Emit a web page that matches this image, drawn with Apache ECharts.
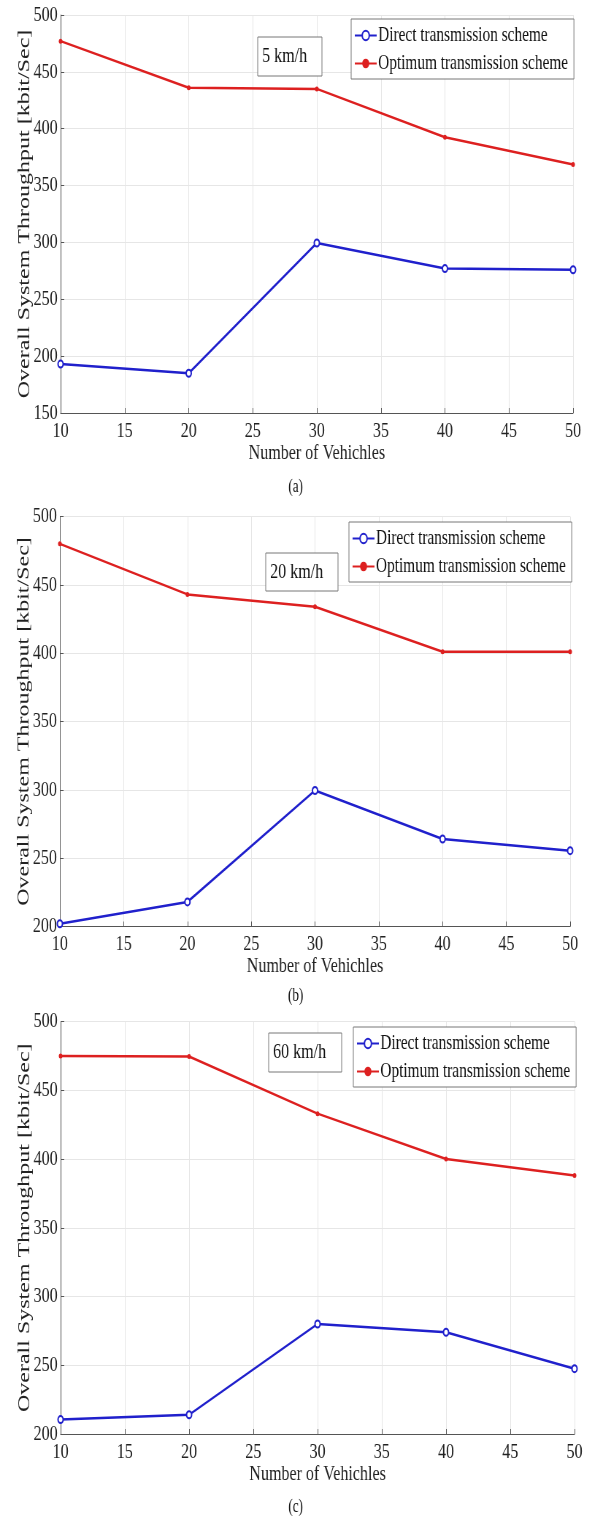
<!DOCTYPE html>
<html>
<head>
<meta charset="utf-8">
<script src="https://cdn.jsdelivr.net/npm/echarts@6/dist/echarts.min.js"></script>
<style>
html,body{margin:0;padding:0;background:#fff;overflow:hidden;}
#chart{width:807px;height:1517px;transform:scaleX(0.73);transform-origin:0 0;}
</style>
</head>
<body>
<div id="chart"></div>
<script>
// ---- data ----
var vehicles = [10, 20, 30, 40, 50];
var directA  = [193, 185, 299.5, 277, 276];
var optimumA = [477, 436, 435, 392.5, 368.5];
var directB  = [202, 218, 299.5, 264, 255.5];
var optimumB = [480, 443, 434, 401, 401];
var directC  = [210.5, 214, 280, 274, 247.5];
var optimumC = [475, 474.5, 433, 400, 388];
var speedLabels = ['5 km/h', '20 km/h', '60 km/h'];
var captions = ['(a)', '(b)', '(c)'];
var yMins = [150, 200, 200];
var seriesNames = ['Direct transmission scheme', 'Optimum transmission scheme'];
var xTitle = 'Number of Vehichles';
var yTitle = 'Overall System Throughput [kbit/Sec]';

var FONT = 'Liberation Serif';
var BLUE = '#2020cc';
var RED = '#dd2020';

var grids = [
  {left: 83, right: 22, top: 15, height: 398},
  {left: 82, right: 26, top: 516.5, height: 410},
  {left: 83, right: 20, top: 1021.5, height: 412.5}
];
var legendPos = [
  {left: 481, top: 19},
  {left: 478, top: 522},
  {left: 484, top: 1027}
];
var boxPos = [
  {x: 353, y: 37, w: 88, h: 39},
  {x: 364, y: 553, w: 99, h: 38},
  {x: 368, y: 1033, w: 100, h: 39}
];
var captionY = [487, 996, 1507];

function pair(xs, ys){ return xs.map(function(x,i){ return [x, ys[i]]; }); }
var directs = [directA, directB, directC];
var optimums = [optimumA, optimumB, optimumC];

var xAxes = [], yAxes = [], series = [], legends = [], graphics = [];
for (var i = 0; i < 3; i++) {
  xAxes.push({
    type: 'value', gridIndex: i, min: 10, max: 50, interval: 5,
    name: xTitle, nameLocation: 'middle', nameGap: 29, nameMoveOverlap: false,
    nameTextStyle: {fontFamily: FONT, fontSize: 22, color: '#222'},
    axisLine: {show: true, lineStyle: {color: '#555', width: 1}},
    axisTick: {show: true, inside: true, length: 5, lineStyle: {color: '#555'}},
    axisLabel: {fontFamily: FONT, fontSize: 22, color: '#222', margin: 7},
    splitLine: {show: true, lineStyle: {color: '#e6e6e6', width: 1}}
  });
  yAxes.push({
    type: 'value', gridIndex: i, min: yMins[i], max: 500, interval: 50,
    name: yTitle, nameLocation: 'middle', nameGap: 37, nameMoveOverlap: false,
    nameTextStyle: {fontFamily: FONT, fontSize: 24, color: '#222'},
    axisLine: {show: true, lineStyle: {color: '#555', width: 1}},
    axisTick: {show: true, inside: true, length: 5, lineStyle: {color: '#555'}},
    axisLabel: {fontFamily: FONT, fontSize: 22, color: '#222', margin: 4},
    splitLine: {show: true, lineStyle: {color: '#e6e6e6', width: 1}}
  });
  series.push({
    name: seriesNames[0], type: 'line', xAxisIndex: i, yAxisIndex: i,
    data: pair(vehicles, directs[i]),
    symbol: 'emptyCircle', symbolSize: 7,
    lineStyle: {color: BLUE, width: 2.5},
    itemStyle: {color: BLUE, borderColor: BLUE, borderWidth: 1.5},
    emphasis: {disabled: true}, animation: false
  });
  series.push({
    name: seriesNames[1], type: 'line', xAxisIndex: i, yAxisIndex: i,
    data: pair(vehicles, optimums[i]),
    symbol: 'circle', symbolSize: 5,
    lineStyle: {color: RED, width: 2.5},
    itemStyle: {color: RED},
    emphasis: {disabled: true}, animation: false
  });
  legends.push({
    orient: 'vertical', left: legendPos[i].left, top: legendPos[i].top,
    padding: [6, 8, 5, 4], itemGap: 7, itemWidth: 30, itemHeight: 12,
    backgroundColor: '#fff', borderColor: '#777', borderWidth: 1,
    selectedMode: false,
    textStyle: {fontFamily: FONT, fontSize: 21, lineHeight: 21, color: '#111', padding: [0, 0, 0, -3]},
    data: seriesNames
  });
  graphics.push({
    type: 'rect', z: 100,
    shape: {x: boxPos[i].x, y: boxPos[i].y, width: boxPos[i].w, height: boxPos[i].h},
    style: {fill: '#fff', stroke: '#777', lineWidth: 1}
  });
  graphics.push({
    type: 'text', z: 101,
    style: {text: speedLabels[i], x: boxPos[i].x + 6, y: boxPos[i].y + boxPos[i].h / 2,
            fill: '#111', font: '22px "' + FONT + '"', textAlign: 'left', textVerticalAlign: 'middle'}
  });
  graphics.push({
    type: 'text', z: 101,
    style: {text: captions[i], x: 405, y: captionY[i],
            fill: '#111', font: '18px "' + FONT + '"', textAlign: 'center', textVerticalAlign: 'middle'}
  });
}

var chart = echarts.init(document.getElementById('chart'), null, {renderer: 'canvas'});
chart.setOption({
  animation: false,
  backgroundColor: '#fff',
  grid: grids,
  xAxis: xAxes,
  yAxis: yAxes,
  legend: legends,
  series: series,
  graphic: graphics
});
</script>
</body>
</html>
